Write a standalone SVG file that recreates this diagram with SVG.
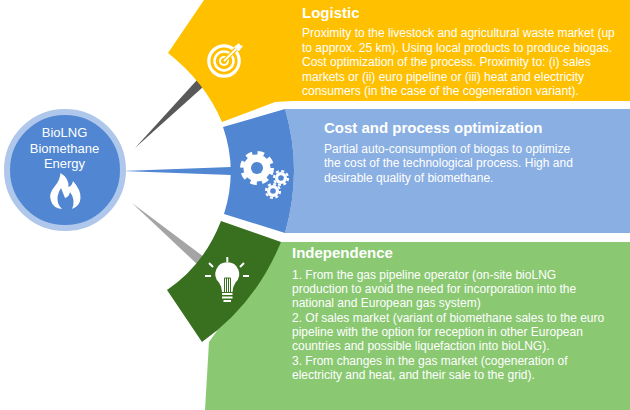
<svg xmlns="http://www.w3.org/2000/svg" width="630" height="410" viewBox="0 0 630 410">
<style>
text{font-family:"Liberation Sans",Arial,sans-serif;fill:#fff}
.h{font-size:15px;font-weight:bold}
.b{font-size:12px}
.c{font-size:13px;text-anchor:middle}
.w{fill:#fff}
.ws{fill:none;stroke:#fff}
.big-teeth{fill:none;stroke:#fff;stroke-width:4;stroke-dasharray:6.500 5.300}
.small-teeth{fill:none;stroke:#fff;stroke-width:2.200;stroke-dasharray:3 2.500}
</style>
<g id="connectors">
<polygon points="135,148 197,80 203,87" fill="#595959"/>
<polygon points="122,171 231,167 231,175" fill="#5086d2"/>
<polygon points="132,203 204,257 198,265" fill="#a5a5a5"/>
</g>
<g id="logistic">
<path d="M204,0H630V101H293L275,102L222,122Q205,82 168,53Z" fill="#ffc000"/>
<g class="icon">
<circle cx="224" cy="61" r="15.200" class="ws" stroke-width="3.200"/>
<circle cx="224" cy="61" r="9.500" class="ws" stroke-width="2.500"/>
<circle cx="224" cy="61" r="4" class="ws" stroke-width="2"/>
<path d="M224,61L238,47" stroke="#ffc000" stroke-width="4" fill="none"/>
<path d="M224,61L238,47" class="ws" stroke-width="1.800"/>
<polygon class="w" points="234,47 239,43 240,45 243,46 239,51 236,50"/>
</g>
<text class="h" x="302" y="18">Logistic</text>
<text class="b" x="302" y="37">Proximity to the livestock and agricultural waste market (up</text>
<text class="b" x="302" y="52">to approx. 25 km). Using local products to produce biogas.</text>
<text class="b" x="302" y="66">Cost optimization of the process. Proximity to: (i) sales</text>
<text class="b" x="302" y="81">markets or (ii) euro pipeline or (iii) heat and electricity</text>
<text class="b" x="302" y="95">consumers (in the case of the cogeneration variant).</text>
</g>
<g id="cost">
<path d="M285,109H630V233H285Q303,170 285,109Z" fill="#8aafe2"/>
<path d="M223,127L285,109Q303,170 285,233L224,214Q238,170 223,127Z" fill="#5086d2"/>
<g class="icon">
<circle cx="257" cy="168" r="13.500" class="w"/>
<circle cx="257" cy="168" r="15" class="big-teeth"/>
<circle cx="257" cy="168" r="6" fill="#5086d2"/>
<circle cx="281" cy="178" r="6" class="w"/>
<circle cx="281" cy="178" r="7" class="small-teeth"/>
<circle cx="281" cy="178" r="2.800" fill="#5086d2"/>
<circle cx="273" cy="191" r="6" class="w"/>
<circle cx="273" cy="191" r="7" class="small-teeth"/>
<circle cx="273" cy="191" r="2.800" fill="#5086d2"/>
</g>
<text class="h" x="324" y="133">Cost and process optimization</text>
<text class="b" x="324" y="153">Partial auto-consumption of biogas to optimize</text>
<text class="b" x="324" y="167">the cost of the technological process. High and</text>
<text class="b" x="324" y="182">desirable quality of biomethane.</text>
</g>
<g id="independence">
<path d="M281,242H630V410H205L209,342Z" fill="#8ac872"/>
<path d="M221,221L281,242Q255,305 202,342L167,290Q204,265 221,221Z" fill="#38701f"/>
<g class="icon">
<path class="w" d="M227.300,262.300A11.700,11.700 0 0 1 235.500,282.500Q233,286 232.500,292H222Q221.500,286 219,282.500A11.700,11.700 0 0 1 227.300,262.300Z"/>
<path d="M224.500,292V278H230.500V292M226.500,278V292M228.500,278V292" fill="none" stroke="#38701f" stroke-width="1"/>
<path d="M222,294H232.500M222,297.500H232.500M223.500,301H231" class="ws" stroke-width="2"/>
<path d="M227.300,257V262M209,263L213,267M244,263L240,267M205,276H211M243,276H249" class="ws" stroke-width="2"/>
</g>
<text class="h" x="292" y="258">Independence</text>
<text class="b" x="292" y="279">1. From the gas pipeline operator (on-site bioLNG</text>
<text class="b" x="292" y="293">production to avoid the need for incorporation into the</text>
<text class="b" x="292" y="307">national and European gas system)</text>
<text class="b" x="292" y="322">2. Of sales market (variant of biomethane sales to the euro</text>
<text class="b" x="292" y="336">pipeline with the option for reception in other European</text>
<text class="b" x="292" y="350">countries and possible liquefaction into bioLNG).</text>
<text class="b" x="292" y="365">3. From changes in the gas market (cogeneration of</text>
<text class="b" x="292" y="379">electricity and heat, and their sale to the grid).</text>
</g>
<g id="hub">
<circle cx="65" cy="170" r="58" fill="#5086d2" stroke="#aec7ea" stroke-width="6"/>
<text class="c" x="64.500" y="137">BioLNG</text>
<text class="c" x="64.500" y="152.500">Biomethane</text>
<text class="c" x="64.500" y="168">Energy</text>
<path class="w" d="M60.500,173Q69,178 68.500,187Q72,186 73,181Q81,190 80.500,198Q80,206 72,209Q76,200 70,192Q69,197 65,198Q63,193 61,188Q56,196 58,203Q59,206 62,209Q53,208 51,201Q48,194 55,186Q60,180 60.500,173Z"/>
</g>
</svg>
